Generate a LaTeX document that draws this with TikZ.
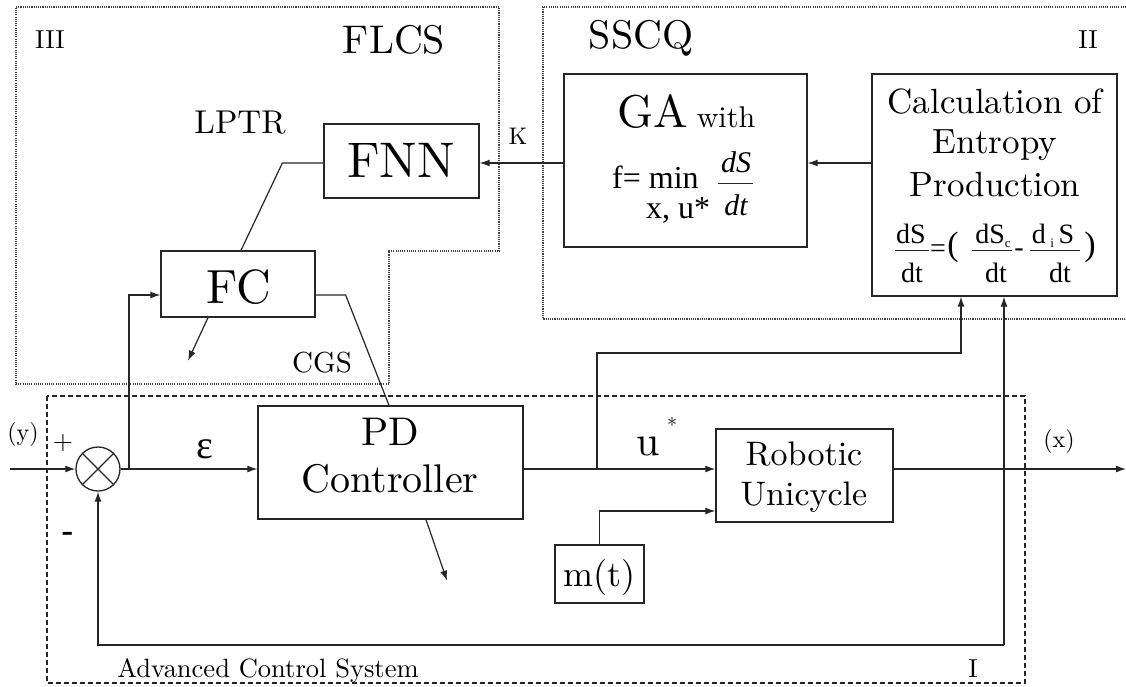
\documentclass[tikz,border=0pt]{standalone}
\usepackage{fontspec}
\setmainfont{lmroman10-regular.otf}[BoldFont=lmroman10-bold.otf,ItalicFont=lmroman10-italic.otf]
\newfontfamily\tms{Liberation Serif}
\usetikzlibrary{arrows.meta,calc}
\newcommand\fsz[1]{\fontsize{#1pt}{#1pt}\selectfont}

\begin{document}
\begin{tikzpicture}[x=1pt,y=-1pt,
  blk/.style={draw=black!85,line width=1.3pt,inner sep=0pt},
  wire/.style={draw=black!85,line width=1.2pt},
  arr/.style={wire,-{Latex[length=10pt,width=7pt]}},
  region/.style={draw=black!75,line width=1.1pt,dash pattern=on 1.1pt off 1.1pt},
  acs/.style={draw=black!85,line width=1.2pt,dash pattern=on 5pt off 3pt},
  txt/.style={inner sep=0pt,anchor=base},
  tw/.style={inner sep=0pt,anchor=base west},
  bar/.style={draw=black!85,line width=1pt},
]
\useasboundingbox[fill=white] (0,0) rectangle (1126,686);

% ---- subsystem outlines ----
\draw[region] (16,7) -- (499,7) -- (499,251) -- (389,251) -- (389,384) -- (16,384) -- cycle;
\draw[region] (1126,7) -- (543,7) -- (543,319) -- (1126,319);
\draw[acs] (47,396) rectangle (1025,683);

% ---- blocks ----
\node[blk,minimum width=155pt,minimum height=74pt] (fnn) at (401.5,161) {};
\node[blk,minimum width=154pt,minimum height=66pt] (fc) at (238,284) {};
\node[blk,minimum width=243pt,minimum height=173pt] (ga) at (685.5,160.5) {};
\node[blk,minimum width=245pt,minimum height=222pt] (ent) at (994.5,185) {};
\node[blk,minimum width=265pt,minimum height=113pt] (pd) at (390.5,462.5) {};
\node[blk,minimum width=177pt,minimum height=93pt] (rob) at (804.5,475.5) {};
\node[blk,minimum width=89pt,minimum height=58pt] (mt) at (599.5,574) {};
\node[blk,circle,minimum size=44pt] (sum) at (98,469) {};
\draw[wire] (sum.north east) -- (sum.south west) (sum.north west) -- (sum.south east);

% ---- block texts ----
\node[txt,font=\fsz{50}] (fnnt) at (401,177) {FNN};
\node[txt,font=\fsz{48}] (fct) at (239,303) {FC};
\node[txt,font=\fsz{46}] (gat) at (653,127) {GA};
\node[txt,font=\fsz{30}] (witht) at (726,127) {with};
\node[tw,font=\tms\fsz{32}] (fmin) at (612,188) {f= min};
\node[tw,font=\tms\fsz{32}] (xu) at (646,218) {x, u*};
\node[txt,font=\tms\itshape\fsz{30}] (gnum) at (736,172) {dS};
\node[txt,font=\tms\itshape\fsz{30}] (gden) at (736,215) {dt};
\draw[bar] (718,183) -- (753,183);

\node[txt,font=\fsz{35}] (ent1) at (995,113) {Calculation of};
\node[txt,font=\fsz{35}] (ent2) at (995,153) {Entropy};
\node[txt,font=\fsz{35}] (ent3) at (995,196) {Production};
% entropy balance
\node[txt,font=\tms\fsz{28}] (f1n) at (911,243) {dS};
\node[txt,font=\tms\fsz{28}] (f1d) at (912,282) {dt};
\draw[bar] (895,250) -- (929,250);
\node[inner sep=0pt,font=\tms\fsz{28}] (eqs) at (938,251) {=};
\node[inner sep=0pt,font=\tms\fsz{34}] (lpar) at (953,247) {(};
\node[txt,font=\tms\fsz{28}] (f2n) at (993,243) {dS\raisebox{-4pt}{\fsz{13}c}};
\node[txt,font=\tms\fsz{28}] (f2d) at (996,282) {dt};
\draw[bar] (972,250) -- (1012,250);
\node[inner sep=0pt,font=\tms\fsz{28}] (mns) at (1019,253) {-};
\node[txt,font=\tms\fsz{28}] (f3n) at (1053,243) {d\,\raisebox{-4pt}{\fsz{13}i}\,S};
\node[txt,font=\tms\fsz{28}] (f3d) at (1060,282) {dt};
\draw[bar] (1030,250) -- (1080,250);
\node[inner sep=0pt,font=\tms\fsz{34}] (rpar) at (1090,247) {)};

\node[txt,font=\fsz{40}] (pd1) at (390,445) {PD};
\node[txt,font=\fsz{40}] (pd2) at (390,492) {Controller};
\node[txt,font=\fsz{34}] (rob1) at (804,465) {Robotic};
\node[txt,font=\fsz{34}] (rob2) at (804,505) {Unicycle};
\node[txt,font=\fsz{36}] (mtt) at (599.5,586) {m(t)};

% ---- labels ----
\node[txt,font=\fsz{26}] (r3) at (50,48) {III};
\node[txt,font=\fsz{40}] (flcs) at (394,53) {FLCS};
\node[txt,font=\fsz{33}] (lptr) at (240,133) {LPTR};
\node[txt,font=\fsz{29}] (cgs) at (322,372) {CGS};
\node[txt,font=\fsz{24}] (klab) at (518,144) {K};
\node[txt,font=\fsz{40}] (sscq) at (641,48) {SSCQ};
\node[txt,font=\fsz{26}] (r2) at (1088,48) {II};
\node[txt,font=\fsz{26}] (r1) at (973,677) {I};
\node[txt,font=\fsz{26.5}] (acsl) at (268,677) {Advanced Control System};
\node[txt,font=\fsz{24}] (ylab) at (23,440) {(y)};
\node[txt,font=\fsz{24}] (xlab) at (1059,447) {(x)};
\node[txt,font=\fsz{26}] (plus) at (63,449) {+};
\node[txt,font=\bfseries\fsz{30}] (minus) at (68,540) {-};
\node[txt,font=\tms\fsz{40}] (eps) at (205,458) {ε};
\node[txt,font=\fsz{42}] (ulab) at (648,455) {u};
\node[txt,font=\fsz{20}] (ustar) at (672,432) {*};

% ---- connectors ----
\coordinate (kc) at (0,163);
\coordinate (yin) at (10,469);
\coordinate (tapa) at (129,469);
\coordinate (fcin) at (129,295);
\coordinate (tapu) at (597,469);
\coordinate (upc) at (597,353);
\coordinate (mtc) at (599.5,511);
\coordinate (xend) at (1126,469);
\coordinate (fbr) at (1004,645);
\coordinate (fbl) at (98,645);
\coordinate (entA) at ($(ent.south)+(-33.5,0)$);
\coordinate (entB) at ($(ent.south)+(9.5,0)$);

\draw[wire] (fnn.west |- kc) -- ++(-41,0) -- ($(fc.north)+(3,0)$);
\draw[arr] ($(fc.south)+(-30,0)$) -- ++(-20,43);
\draw[wire] ($(fc.east)+(0,11)$) -- ++(30,0) -- ($(pd.north)+(-1.5,0)$);
\draw[arr] ($(pd.south)+(35.5,0)$) -- ++(21,61);
\draw[arr] (ga.west |- kc) -- (fnn.east |- kc);
\draw[arr] (ent.west |- kc) -- (ga.east |- kc);

\draw[arr] (yin) -- (sum.west);
\draw[arr] (sum.east) -- (pd.west |- sum);
\draw[arr] (tapa) -- (fcin) -- (fc.west |- fcin);
\draw[arr] (pd.east |- sum) -- (rob.west |- sum);
\draw[arr] (tapu) -- (upc) -- (entA |- upc) -- (entA);
\draw[arr] (mt.north) -- (mtc) -- (rob.west |- mtc);
\draw[arr] (rob.east |- sum) -- (xend);
\draw[arr] (fbr) -- (fbl) -- (sum.south);
\draw[arr] (fbr) -- (entB);
\end{tikzpicture}
\end{document}
